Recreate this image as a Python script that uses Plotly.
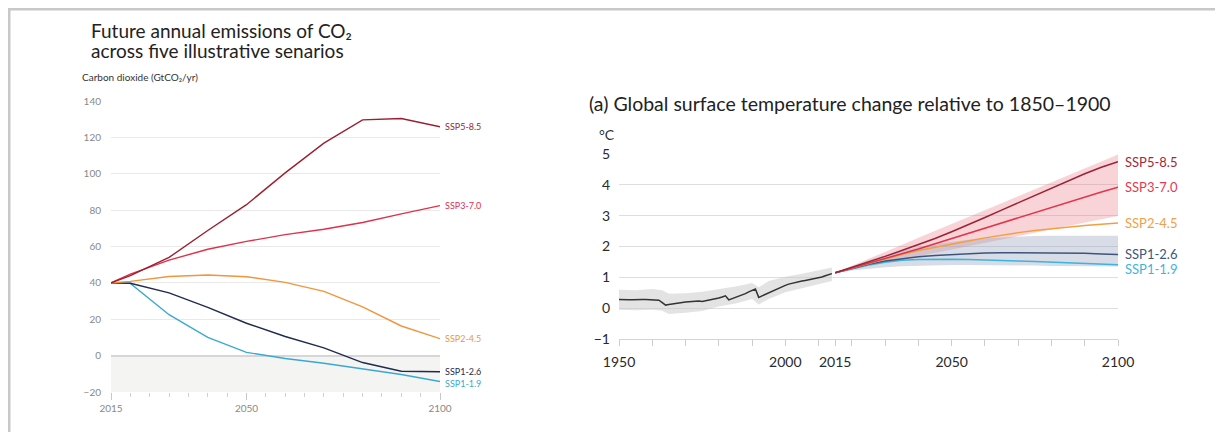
import plotly.graph_objects as go

# ---------------- Left chart: CO2 emissions ----------------
emis_years = [2015, 2020, 2030, 2040, 2050, 2060, 2070, 2080, 2090, 2100]
emis_ssp585 = [40.0, 44.0, 54.0, 68.8, 83.0, 100.5, 116.8, 129.6, 130.4, 125.8]
emis_ssp370 = [40.0, 44.8, 52.5, 58.5, 62.8, 66.5, 69.5, 73.2, 77.9, 82.5]
emis_ssp245 = [40.0, 40.8, 43.5, 44.3, 43.4, 40.3, 35.3, 26.8, 16.3, 9.3]
emis_ssp126 = [40.0, 39.8, 34.5, 26.5, 17.8, 10.5, 4.3, -3.8, -8.6, -8.9]
emis_ssp119 = [40.0, 39.7, 22.5, 10.0, 1.8, -1.6, -4.2, -7.4, -10.4, -14.2]
emis_yticks = [-20, 0, 20, 40, 60, 80, 100, 120, 140]
emis_xticks = [2015, 2050, 2100]

# ---------------- Right chart: temperature ----------------
hist_years = list(range(1950, 2015))
hist_temp = [0.28, 0.27, 0.28, 0.27, 0.27, 0.28, 0.27, 0.28, 0.28, 0.28, 0.28, 0.27,
             0.26, 0.18, 0.10, 0.12, 0.14, 0.16, 0.17, 0.19, 0.20, 0.21, 0.22, 0.21,
             0.23, 0.22, 0.24, 0.26, 0.27, 0.30, 0.33, 0.36, 0.40, 0.27, 0.31, 0.34,
             0.38, 0.42, 0.47, 0.53, 0.58, 0.62, 0.35, 0.40, 0.46, 0.51, 0.56, 0.60,
             0.66, 0.71, 0.74, 0.78, 0.81, 0.84, 0.86, 0.88, 0.90, 0.92, 0.94, 0.96,
             0.98, 1.01, 1.05, 1.09, 1.12]
band_years = [1950, 1955, 1960, 1963, 1965, 1970, 1975, 1980, 1985, 1990, 1992, 1995, 2000, 2005, 2010, 2014]
hist_upper = [0.60, 0.58, 0.62, 0.58, 0.47, 0.48, 0.53, 0.62, 0.70, 0.82, 0.68, 0.88, 1.02, 1.12, 1.22, 1.32]
hist_lower = [-0.05, -0.07, -0.05, -0.08, -0.19, -0.15, -0.09, 0.05, 0.15, 0.30, 0.12, 0.30, 0.52, 0.66, 0.78, 0.88]

proj_years = [2015, 2020, 2025, 2030, 2035, 2040, 2045, 2050, 2055, 2060,
              2065, 2070, 2075, 2080, 2085, 2090, 2095, 2100]
t_ssp585 = [1.15, 1.32, 1.50, 1.68, 1.87, 2.06, 2.26, 2.48, 2.70, 2.94,
            3.18, 3.42, 3.66, 3.90, 4.14, 4.36, 4.57, 4.75]
t_ssp370 = [1.15, 1.30, 1.45, 1.60, 1.76, 1.92, 2.09, 2.26, 2.43, 2.60,
            2.77, 2.94, 3.11, 3.28, 3.45, 3.62, 3.77, 3.92]
t_ssp245 = [1.15, 1.30, 1.45, 1.60, 1.74, 1.87, 1.98, 2.08, 2.18, 2.28,
            2.37, 2.45, 2.52, 2.58, 2.63, 2.68, 2.72, 2.76]
t_ssp126 = [1.15, 1.29, 1.42, 1.53, 1.61, 1.67, 1.71, 1.74, 1.77, 1.79,
            1.80, 1.80, 1.80, 1.80, 1.79, 1.78, 1.76, 1.74]
t_ssp119 = [1.15, 1.28, 1.40, 1.49, 1.55, 1.58, 1.59, 1.59, 1.58, 1.57,
            1.55, 1.53, 1.51, 1.49, 1.47, 1.45, 1.43, 1.41]
r370_upper = [1.15, 1.37, 1.60, 1.83, 2.05, 2.28, 2.50, 2.73, 2.95, 3.18,
              3.40, 3.63, 3.86, 4.08, 4.30, 4.53, 4.76, 4.98]
r370_lower = [1.15, 1.26, 1.37, 1.47, 1.58, 1.69, 1.80, 1.91, 2.01, 2.12,
              2.23, 2.34, 2.45, 2.55, 2.66, 2.77, 2.88, 2.99]
r126_upper = [1.15, 1.36, 1.55, 1.72, 1.86, 1.98, 2.08, 2.16, 2.22, 2.27,
              2.30, 2.32, 2.34, 2.35, 2.35, 2.35, 2.35, 2.35]
r126_lower = [1.15, 1.22, 1.28, 1.33, 1.36, 1.38, 1.39, 1.40, 1.40, 1.40,
              1.40, 1.39, 1.38, 1.37, 1.36, 1.35, 1.35, 1.35]
temp_yticks = [-1, 0, 1, 2, 3, 4, 5]
temp_xticks = [1950, 2000, 2015, 2050, 2100]

scenarios = ["SSP5-8.5", "SSP3-7.0", "SSP2-4.5", "SSP1-2.6", "SSP1-1.9"]

W, H = 1223, 432
OX, OY = 8, 8  # page body margin offset
FONT = "Lato, 'Noto Sans', sans-serif"

def px(x):
    return (x - OX) / W

def py(y):
    return 1 - (y - OY) / H

left_cols = {"SSP5-8.5": "#9a1f31", "SSP3-7.0": "#e0304a", "SSP2-4.5": "#f0963c",
             "SSP1-2.6": "#1f2b4e", "SSP1-1.9": "#3aa9d0"}
right_cols = {"SSP5-8.5": "#9c2236", "SSP3-7.0": "#e3344c", "SSP2-4.5": "#f2a03e",
              "SSP1-2.6": "#3d557c", "SSP1-1.9": "#3cb4dc"}
label_cols = {"SSP5-8.5": "#a3283b", "SSP3-7.0": "#e53950", "SSP2-4.5": "#f2a048",
              "SSP1-2.6": "#3d557c", "SSP1-1.9": "#3cb6de"}

fig = go.Figure()

# left lines
emis = {"SSP5-8.5": emis_ssp585, "SSP3-7.0": emis_ssp370, "SSP2-4.5": emis_ssp245,
        "SSP1-2.6": emis_ssp126, "SSP1-1.9": emis_ssp119}
for s in ["SSP1-1.9", "SSP1-2.6", "SSP2-4.5", "SSP3-7.0", "SSP5-8.5"]:
    fig.add_trace(go.Scatter(x=emis_years, y=emis[s], mode="lines",
                             line=dict(color=left_cols[s], width=1.4),
                             xaxis="x", yaxis="y", showlegend=False, hoverinfo="skip"))

# right bands
fig.add_trace(go.Scatter(x=band_years + band_years[::-1], y=hist_upper + hist_lower[::-1],
                         fill="toself", fillcolor="rgba(200,200,200,0.5)", line=dict(width=0),
                         mode="lines", xaxis="x2", yaxis="y2", showlegend=False, hoverinfo="skip"))
fig.add_trace(go.Scatter(x=proj_years + proj_years[::-1], y=r370_upper + r370_lower[::-1],
                         fill="toself", fillcolor="rgba(232,110,122,0.30)", line=dict(width=0),
                         mode="lines", xaxis="x2", yaxis="y2", showlegend=False, hoverinfo="skip"))
fig.add_trace(go.Scatter(x=proj_years + proj_years[::-1], y=r126_upper + r126_lower[::-1],
                         fill="toself", fillcolor="rgba(150,162,188,0.38)", line=dict(width=0),
                         mode="lines", xaxis="x2", yaxis="y2", showlegend=False, hoverinfo="skip"))

temps = {"SSP5-8.5": t_ssp585, "SSP3-7.0": t_ssp370, "SSP2-4.5": t_ssp245,
         "SSP1-2.6": t_ssp126, "SSP1-1.9": t_ssp119}
for s in ["SSP1-1.9", "SSP1-2.6", "SSP2-4.5", "SSP3-7.0", "SSP5-8.5"]:
    fig.add_trace(go.Scatter(x=proj_years, y=temps[s], mode="lines",
                             line=dict(color=right_cols[s], width=1.5),
                             xaxis="x2", yaxis="y2", showlegend=False, hoverinfo="skip"))
fig.add_trace(go.Scatter(x=hist_years, y=hist_temp, mode="lines",
                         line=dict(color="#333333", width=1.5),
                         xaxis="x2", yaxis="y2", showlegend=False, hoverinfo="skip"))

shapes = [
    # shaded negative zone on left chart
    dict(type="rect", xref="x", yref="y", x0=2015, x1=2100, y0=-20, y1=0,
         fillcolor="#f4f4f2", line=dict(width=0), layer="below"),
    # frame
    dict(type="line", xref="paper", yref="paper", x0=px(8), x1=1.0, y0=py(9), y1=py(9),
         line=dict(color="#c8c8c8", width=3)),
    dict(type="line", xref="paper", yref="paper", x0=px(9), x1=px(9), y0=py(8), y1=0,
         line=dict(color="#c8c8c8", width=3)),
]

annotations = [
    dict(text="Future annual emissions of CO₂",
         xref="paper", yref="paper", x=px(89), y=py(30.5), xanchor="left", yanchor="middle",
         showarrow=False, align="left", font=dict(family=FONT, size=19, color="#222222")),
    dict(text="across five illustrative senarios",
         xref="paper", yref="paper", x=px(89), y=py(50.5), xanchor="left", yanchor="middle",
         showarrow=False, align="left", font=dict(family=FONT, size=19, color="#222222")),
    dict(text="Carbon dioxide (GtCO₂/yr)", xref="paper", yref="paper",
         x=px(80), y=py(77), xanchor="left", yanchor="middle", showarrow=False,
         font=dict(family=FONT, size=10, color="#333333")),
    dict(text="(a) Global surface temperature change relative to 1850–1900",
         xref="paper", yref="paper", x=px(587), y=py(103), xanchor="left", yanchor="middle",
         showarrow=False, font=dict(family=FONT, size=19.5, color="#222222")),
    dict(text="°C", xref="paper", yref="paper", x=px(597), y=py(134), xanchor="left",
         yanchor="middle", showarrow=False, font=dict(family=FONT, size=14, color="#333333")),
]

left_shift = {"SSP5-8.5": 0, "SSP3-7.0": 0, "SSP2-4.5": 0, "SSP1-2.6": 0, "SSP1-1.9": -2}
for s in scenarios:
    annotations.append(dict(text=s, xref="x", yref="y", x=emis_years[-1], y=emis[s][-1],
                            xanchor="left", yanchor="middle", xshift=3, yshift=left_shift[s],
                            showarrow=False, font=dict(family=FONT, size=9, color=left_cols[s])))

right_shift = {"SSP5-8.5": 0, "SSP3-7.0": 0, "SSP2-4.5": 0, "SSP1-2.6": 1, "SSP1-1.9": -4}
for s in scenarios:
    annotations.append(dict(text=s, xref="x2", yref="y2", x=proj_years[-1], y=temps[s][-1],
                            xanchor="left", yanchor="middle", xshift=5, yshift=right_shift[s],
                            showarrow=False, font=dict(family=FONT, size=13, color=label_cols[s])))

fig.update_layout(
    width=W, height=H,
    margin=dict(l=0, r=0, t=0, b=0, pad=0, autoexpand=False),
    paper_bgcolor="white", plot_bgcolor="white",
    font=dict(family=FONT),
    shapes=shapes, annotations=annotations,
    xaxis=dict(domain=[px(111), px(440)], range=[2015, 2100], anchor="y", automargin=False,
               tickvals=emis_xticks, ticks="outside", ticklen=7, tickcolor="#c8c8c8",
               tickfont=dict(size=10, color="#888888"), showgrid=False, zeroline=False,
               showline=False,
               minor=dict(ticks="outside", dtick=5, tick0=2015, ticklen=4, tickcolor="#d0d0d0",
                          showgrid=False)),
    yaxis=dict(domain=[py(392), py(101)], range=[-20, 140], anchor="x", automargin=False,
               tickvals=emis_yticks, ticks="", ticklabelstandoff=9,
               tickfont=dict(size=10, color="#888888"), showgrid=True,
               gridcolor="#e9e9e9", gridwidth=1, zeroline=True, zerolinecolor="#d6d6d6",
               zerolinewidth=2, showline=False),
    xaxis2=dict(domain=[px(619), px(1118)], range=[1950, 2100], anchor="y2", automargin=False,
                tickvals=temp_xticks, ticks="outside", ticklen=6, tickcolor="#cccccc",
                ticklabelstandoff=4,
                tickfont=dict(size=14, color="#2a2a2a"), showgrid=False, zeroline=False,
                showline=True, linecolor="#d4d4d4", linewidth=1,
                minor=dict(ticks="outside", dtick=10, tick0=1950, ticklen=6, tickcolor="#cccccc",
                           showgrid=False)),
    yaxis2=dict(domain=[py(339), py(154)], range=[-1, 5], anchor="x2", automargin=False,
                tickvals=temp_yticks, ticks="", ticklabelstandoff=8,
                tickfont=dict(size=14, color="#2a2a2a"), showgrid=True,
                gridcolor="#dedede", gridwidth=1, zeroline=True, zerolinecolor="#dedede",
                zerolinewidth=1, showline=False),
)

fig.write_html("out.html")
